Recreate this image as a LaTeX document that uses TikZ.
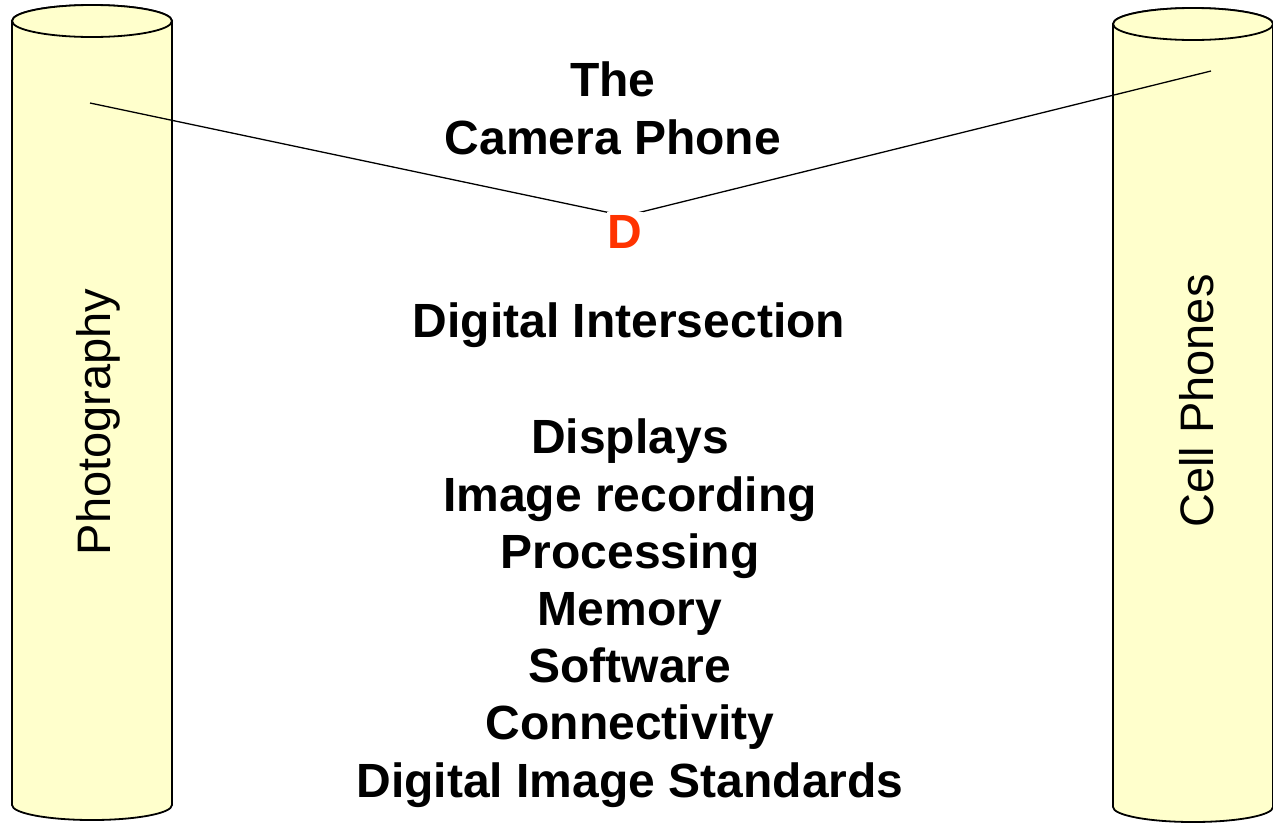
\documentclass[tikz,border=0pt]{standalone}
\usepackage{fontspec}
\setmainfont{Liberation Sans}
\definecolor{cylfill}{HTML}{FFFFCC}
\definecolor{dred}{HTML}{FF3300}
\tikzset{
  cyl/.style={fill=cylfill, draw=black, line width=1.8pt},
  link/.style={draw=black, line width=1.3pt},
  bigbold/.style={font=\fontsize{48}{57.2}\selectfont\bfseries, align=center, inner sep=0pt, anchor=base},
  sidelabel/.style={font=\fontsize{47}{56}\selectfont, rotate=90, inner sep=0pt, anchor=base},
}
\begin{document}
\begin{tikzpicture}[x=1pt,y=1pt]
\useasboundingbox (0,0) rectangle (1273,-823);
% left cylinder
\path[cyl] (12,-21) -- (12,-805) arc[start angle=180,end angle=360,x radius=80,y radius=15] -- (172,-21) arc[start angle=0,end angle=180,x radius=80,y radius=16] -- cycle;
\draw[cyl] (92,-21) ellipse [x radius=80, y radius=16];
% right cylinder
\path[cyl] (1113,-24) -- (1113,-807) arc[start angle=180,end angle=360,x radius=80,y radius=15] -- (1273,-24) arc[start angle=0,end angle=180,x radius=80,y radius=16] -- cycle;
\draw[cyl] (1193,-24) ellipse [x radius=80, y radius=16];
% labels in cylinders
\node[sidelabel] (photo) at (110,-422) {Photography};
\node[sidelabel] (cell) at (1213,-401) {Cell Phones};
% connectors
\coordinate (pl) at (90,-103);
\coordinate (cl) at (1211,-71);
\coordinate (meet) at (625,-216);
\draw[link] (pl) -- (meet) -- (cl);
% texts (base anchor of a multi-line node = last line's baseline)
\node[bigbold] (title) at (613,-154) {The\\Camera Phone};
\node[bigbold, text=dred, fill=white, text height=34.5pt, text depth=0pt, inner xsep=1pt, inner ysep=2pt] (D) at (625,-248) {D};
\node[bigbold] (inter) at (629,-337) {Digital Intersection};
\node[bigbold] (list) at (630,-797) {Displays\\Image recording\\Processing\\Memory\\Software\\Connectivity\\Digital Image Standards};
\end{tikzpicture}
\end{document}
